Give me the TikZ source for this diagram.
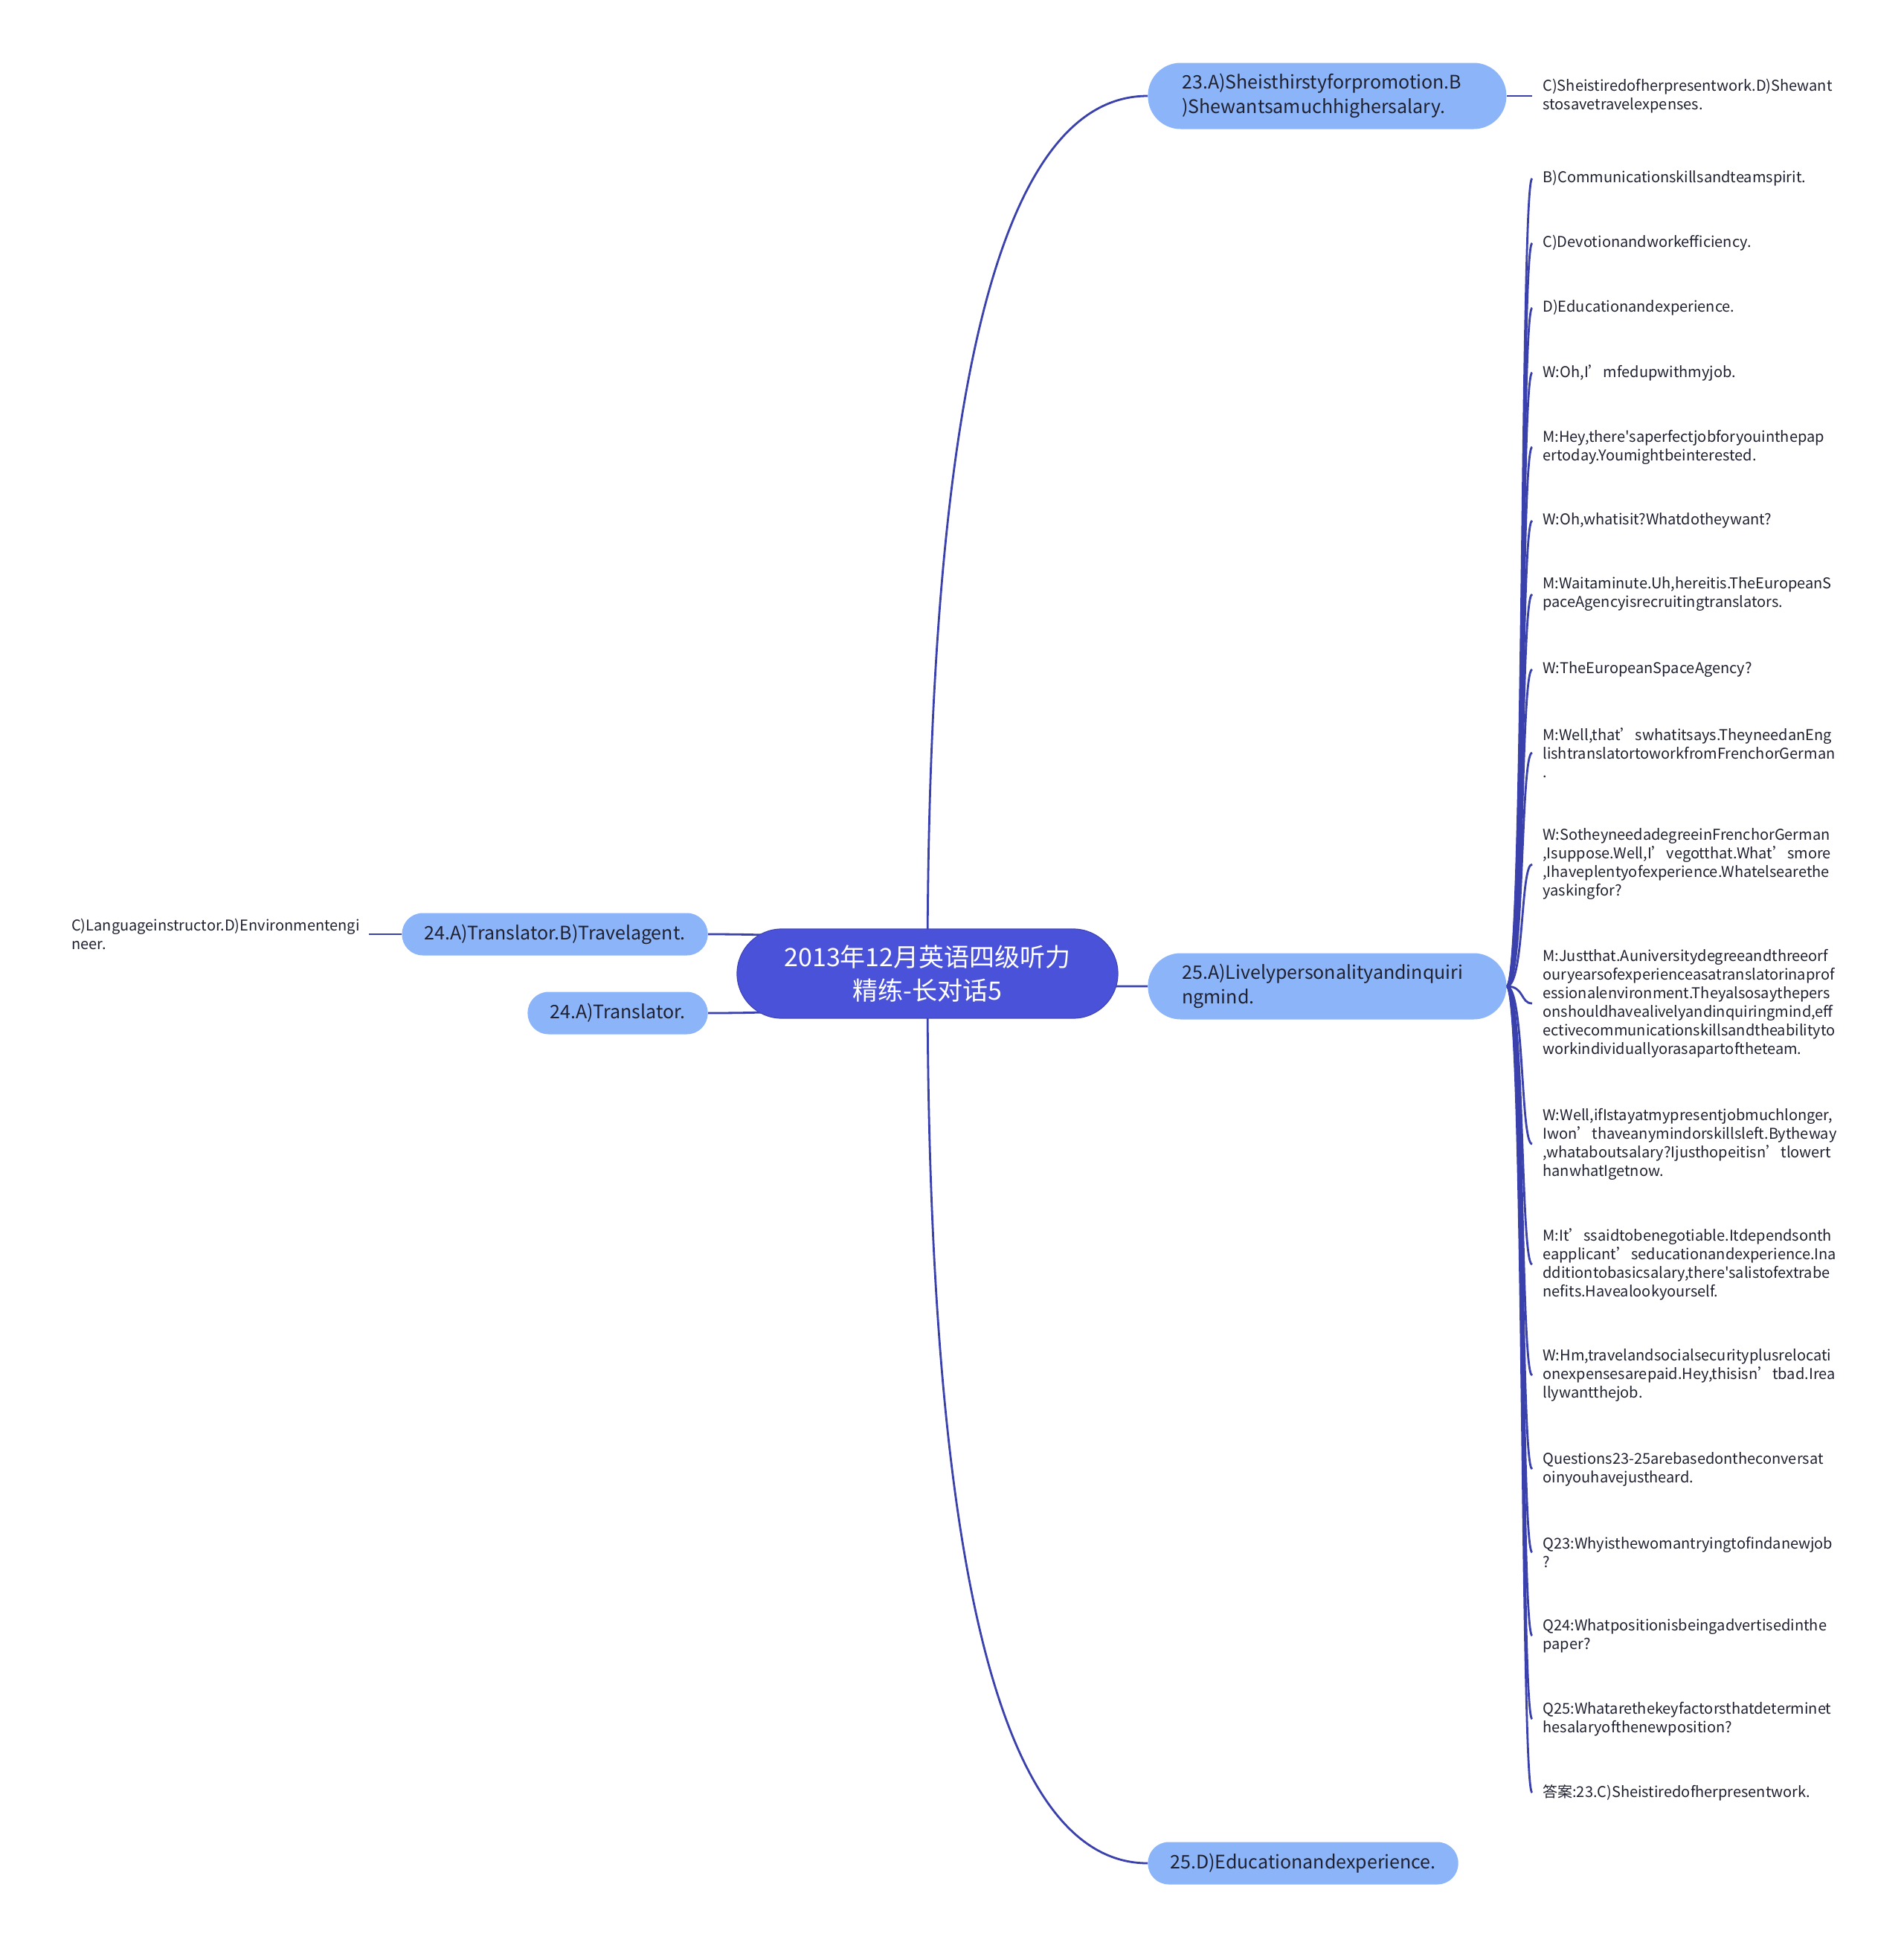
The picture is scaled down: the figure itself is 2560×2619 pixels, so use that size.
\documentclass[tikz,border=0pt]{standalone}
\usepackage{fontspec}
\setmainfont{Noto Sans CJK SC}[Ligatures=TeXOff]
\usetikzlibrary{backgrounds, calc}
\definecolor{rootblue}{HTML}{4B52DA}
\definecolor{topicblue}{HTML}{8CB4F8}
\definecolor{linkblue}{HTML}{3A40AC}
\definecolor{inktext}{HTML}{1F2130}

\tikzset{
  rootbox/.style={fill=rootblue, draw=rootblue!85!black, line width=0.6pt, text=white,
    rounded corners=30pt, minimum height=60pt, text width=200pt, inner xsep=28pt,
    align=center, font=\fontsize{17}{22.5}\selectfont},
  topicbox/.style={fill=topicblue, text=inktext, rounded corners=14pt, minimum height=28.5pt,
    inner xsep=15pt, font=\fontsize{12.5}{16.5}\selectfont},
  widebox/.style={topicbox, rounded corners=22pt, minimum height=44.5pt, text width=195pt,
    inner xsep=23pt, align=left},
  leaf/.style={anchor=west, inner xsep=7pt, inner ysep=1pt, align=left, text=inktext,
    font=\fontsize{10}{12.5}\selectfont},
  link/.style={draw=linkblue, line width=1.4pt}
}

\begin{document}
\begin{tikzpicture}[x=0.5pt,y=-0.5pt]
  \useasboundingbox (0,0) rectangle (2560,2619);

  % centre and main topics
  \node[rootbox] (root) at (1247,1309) {2013年12月英语四级听力\\精练-长对话5};
  \node[widebox, anchor=west] (q23) at (1543,129) {23.A)Sheisthirstyforpromotion.B\\)Shewantsamuchhighersalary.};
  \node[widebox, anchor=west] (q25a) at (1543,1326) {25.A)Livelypersonalityandinquiri\\ngmind.};
  \node[topicbox, anchor=west] (q25d) at (1543,2505) {25.D)Educationandexperience.};
  \node[topicbox, anchor=east] (q24ab) at (952,1256) {24.A)Translator.B)Travelagent.};
  \node[topicbox, anchor=east] (q24a) at (952,1362) {24.A)Translator.};

  % side leaves
  \node[leaf] (cd23) at (2060,129) {C)Sheistiredofherpresentwork.D)Shewant\\stosavetravelexpenses.};
  \node[leaf, anchor=east, inner xsep=6pt] (cd24) at (496,1256) {C)Languageinstructor.D)Environmentengi\\neer.};

  % leaves of 25.A
  \node[leaf] (t1) at (2060,240) {B)Communicationskillsandteamspirit.};
  \node[leaf] (t2) at (2060,327) {C)Devotionandworkefficiency.};
  \node[leaf] (t3) at (2060,414) {D)Educationandexperience.};
  \node[leaf] (t4) at (2060,501) {W:Oh,I’mfedupwithmyjob.};
  \node[leaf] (t5) at (2060,601) {M:Hey,there'saperfectjobforyouinthepap\\ertoday.Youmightbeinterested.};
  \node[leaf] (t6) at (2060,700) {W:Oh,whatisit?Whatdotheywant?};
  \node[leaf] (t7) at (2060,799) {M:Waitaminute.Uh,hereitis.TheEuropeanS\\paceAgencyisrecruitingtranslators.};
  \node[leaf] (t8) at (2060,900) {W:TheEuropeanSpaceAgency?};
  \node[leaf] (t9) at (2060,1012) {M:Well,that’swhatitsays.TheyneedanEng\\lishtranslatortoworkfromFrenchorGerman\\.};
  \node[leaf] (t10) at (2060,1162) {W:SotheyneedadegreeinFrenchorGerman\\,Isuppose.Well,I’vegotthat.What’smore\\,Ihaveplentyofexperience.Whatelsearethe\\yaskingfor?};
  \node[leaf] (t11) at (2060,1349) {M:Justthat.Auniversitydegreeandthreeorf\\ouryearsofexperienceasatranslatorinaprof\\essionalenvironment.Theyalsosaythepers\\onshouldhavealivelyandinquiringmind,eff\\ectivecommunicationskillsandtheabilityto\\workindividuallyorasapartoftheteam.};
  \node[leaf] (t12) at (2060,1538) {W:Well,ifIstayatmypresentjobmuchlonger,\\Iwon’thaveanymindorskillsleft.Bytheway\\,whataboutsalary?Ijusthopeitisn’tlowert\\hanwhatIgetnow.};
  \node[leaf] (t13) at (2060,1700) {M:It’ssaidtobenegotiable.Itdependsonth\\eapplicant’seducationandexperience.Ina\\dditiontobasicsalary,there'salistofextrabe\\nefits.Havealookyourself.};
  \node[leaf] (t14) at (2060,1849) {W:Hm,travelandsocialsecurityplusrelocati\\onexpensesarepaid.Hey,thisisn’tbad.Irea\\llywantthejob.};
  \node[leaf] (t15) at (2060,1975) {Questions23-25arebasedontheconversat\\oinyouhavejustheard.};
  \node[leaf] (t16) at (2060,2087) {Q23:Whyisthewomantryingtofindanewjob\\?};
  \node[leaf] (t17) at (2060,2199) {Q24:Whatpositionisbeingadvertisedinthe\\paper?};
  \node[leaf] (t18) at (2060,2311) {Q25:Whatarethekeyfactorsthatdeterminet\\hesalaryofthenewposition?};
  \node[leaf] (t19) at (2060,2410) {答案:23.C)Sheistiredofherpresentwork.};

  % connectors
  \begin{scope}[on background layer]
    \draw[link] (root.center) .. controls ($(root.center)!0.667!(root.center |- q23.west)$) and ($(q23.west)!0.667!(root.center |- q23.west)$) .. (q23.west);
    \draw[link] (root.center) .. controls ($(root.center)!0.667!(root.center |- q25a.west)$) and ($(q25a.west)!0.667!(root.center |- q25a.west)$) .. (q25a.west);
    \draw[link] (root.center) .. controls ($(root.center)!0.667!(root.center |- q25d.west)$) and ($(q25d.west)!0.667!(root.center |- q25d.west)$) .. (q25d.west);
    \draw[link] (root.center) .. controls ($(root.center)!0.667!(root.center |- q24ab.east)$) and ($(q24ab.east)!0.667!(root.center |- q24ab.east)$) .. (q24ab.east);
    \draw[link] (root.center) .. controls ($(root.center)!0.667!(root.center |- q24a.east)$) and ($(q24a.east)!0.667!(root.center |- q24a.east)$) .. (q24a.east);
    \draw[link] (q23.east) -- (cd23.west);
    \draw[link] (q24ab.west) -- (cd24.east);
    \draw[link] (q25a.east) .. controls +(24,0) and +(-16,0) .. (t1.west);
    \draw[link] (q25a.east) .. controls +(24,0) and +(-16,0) .. (t2.west);
    \draw[link] (q25a.east) .. controls +(24,0) and +(-16,0) .. (t3.west);
    \draw[link] (q25a.east) .. controls +(24,0) and +(-16,0) .. (t4.west);
    \draw[link] (q25a.east) .. controls +(24,0) and +(-16,0) .. (t5.west);
    \draw[link] (q25a.east) .. controls +(24,0) and +(-16,0) .. (t6.west);
    \draw[link] (q25a.east) .. controls +(24,0) and +(-16,0) .. (t7.west);
    \draw[link] (q25a.east) .. controls +(24,0) and +(-16,0) .. (t8.west);
    \draw[link] (q25a.east) .. controls +(24,0) and +(-16,0) .. (t9.west);
    \draw[link] (q25a.east) .. controls +(24,0) and +(-16,0) .. (t10.west);
    \draw[link] (q25a.east) .. controls +(24,0) and +(-16,0) .. (t11.west);
    \draw[link] (q25a.east) .. controls +(24,0) and +(-16,0) .. (t12.west);
    \draw[link] (q25a.east) .. controls +(24,0) and +(-16,0) .. (t13.west);
    \draw[link] (q25a.east) .. controls +(24,0) and +(-16,0) .. (t14.west);
    \draw[link] (q25a.east) .. controls +(24,0) and +(-16,0) .. (t15.west);
    \draw[link] (q25a.east) .. controls +(24,0) and +(-16,0) .. (t16.west);
    \draw[link] (q25a.east) .. controls +(24,0) and +(-16,0) .. (t17.west);
    \draw[link] (q25a.east) .. controls +(24,0) and +(-16,0) .. (t18.west);
    \draw[link] (q25a.east) .. controls +(24,0) and +(-16,0) .. (t19.west);
  \end{scope}
\end{tikzpicture}
\end{document}
